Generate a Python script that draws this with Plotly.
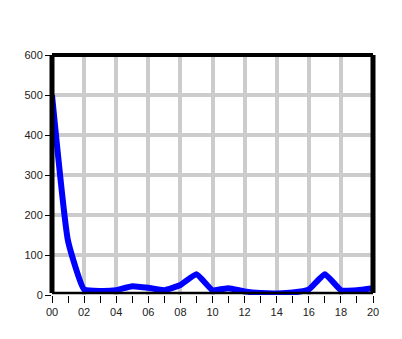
import plotly.graph_objects as go

years = list(range(0, 21))
year_labels = ["00", "02", "04", "06", "08", "10", "12", "14", "16", "18", "20"]
values = [500, 135, 14, 10, 12, 22, 18, 12, 25, 52, 12, 17, 9, 5, 4, 6, 14, 52, 12, 12, 17]

fig = go.Figure()
fig.add_trace(go.Scatter(
    x=years, y=values, mode="lines",
    line=dict(color="#0000ff", width=6, shape="spline", smoothing=0.4),
    hoverinfo="skip", showlegend=False,
))

font = dict(family="Liberation Sans, Arial, sans-serif", size=11, color="#222")

fig.update_layout(
    width=402, height=339,
    margin=dict(l=52, r=29, t=55, b=44),
    paper_bgcolor="white", plot_bgcolor="white",
    font=font,
    xaxis=dict(
        range=[0, 20], tickmode="array",
        tickvals=list(range(0, 21, 2)), ticktext=year_labels,
        showgrid=True, gridcolor="#cccccc", gridwidth=4,
        ticks="outside", ticklen=7, tickcolor="#000", tickwidth=1,
        minor=dict(dtick=1, tick0=0, ticks="outside", ticklen=7, tickcolor="#000", tickwidth=1, showgrid=False),
        zeroline=False, showline=False, fixedrange=True,
    ),
    yaxis=dict(
        range=[0, 600], dtick=100, tick0=0,
        showgrid=True, gridcolor="#cccccc", gridwidth=4,
        ticks="outside", ticklen=6, tickcolor="#000", tickwidth=1,
        zeroline=False, showline=False, fixedrange=True,
    ),
    shapes=[
        dict(type="line", xref="paper", yref="paper", x0=0, x1=1, y0=1, y1=1,
             line=dict(color="black", width=4), layer="above"),
        dict(type="line", xref="paper", yref="paper", x0=0, x1=0, y0=0.008, y1=1,
             line=dict(color="black", width=5), layer="above"),
        dict(type="line", xref="paper", yref="paper", x0=1, x1=1, y0=0.008, y1=1,
             line=dict(color="black", width=5), layer="above"),
        dict(type="line", xref="paper", yref="paper", x0=0, x1=1, y0=0.008, y1=0.008,
             line=dict(color="black", width=2.5), layer="above"),
    ],
)

fig.write_html("out.html")
